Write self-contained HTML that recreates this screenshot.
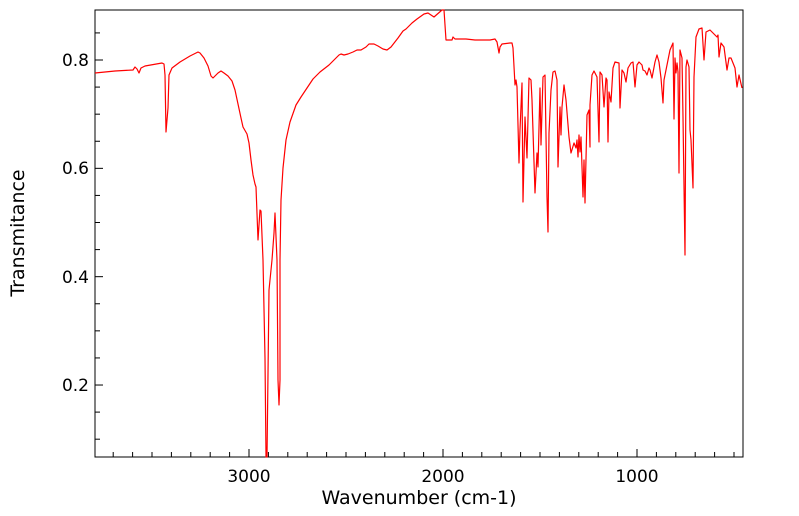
<!DOCTYPE html>
<html><head><meta charset="utf-8"><style>
html,body{margin:0;padding:0;background:#fff}
svg{display:block}
text{font-family:"DejaVu Sans","Liberation Sans",sans-serif;fill:#000}
</style></head><body>
<svg width="799" height="516" viewBox="0 0 799 516" xmlns="http://www.w3.org/2000/svg">
<rect x="95" y="10" width="648" height="447" fill="none" stroke="#000" stroke-width="1"/>
<g stroke="#000" stroke-width="1" id="ticks"></g>
<g font-size="17" text-anchor="end">
<text x="89" y="66">0.8</text>
<text x="89" y="174">0.6</text>
<text x="89" y="283">0.4</text>
<text x="89" y="391">0.2</text>
</g>
<g font-size="17" text-anchor="middle">
<text x="249" y="482">3000</text>
<text x="443" y="482">2000</text>
<text x="637" y="482">1000</text>
<text x="419" y="504" font-size="19">Wavenumber (cm-1)</text>
</g>
<text transform="translate(24,233) rotate(-90)" font-size="19" text-anchor="middle">Transmitance</text>
<polyline fill="none" stroke="#ff0000" stroke-width="1.2" stroke-linejoin="round" points="
95,73 115,71 133,70 135,67 137,69 139,73 141,68 145,66 162,63 164,64 165,75 166,132 168,108 169,75 172,68 180,62 190,56 196,53 198,52 200,53 204,58 208,66 211,76 213,78 218,73 221,71 224,73 228,76 232,81 235,90 238,104 241,118 243,127 247,134 249,143 251,160 253,175 255,184 256,187 258,240 260,210 261,211 263,260 265,358 266,457 267,457 269,290 272,260 274,233 275,213 277,260 278,380 279,405 280,380 280,260 281,200 283,168 286,140 290,122 296,105 301,97 307,88 313,79 320,72 329,65 336,58 339,55 341,54 344,55 348,54 353,52 357,50 361,50 366,47 369,44 374,44 378,46 383,49 387,50 391,47 398,38 403,31 406,29 412,23 417,19 424,14 428,13 431,15 434,17 442,10 444,10 446,40 450,40 452,40 453,37 455,39 466,39 475,40 483,40 490,40 495,39 497,42 499,53 500,47 502,44 510,43 512,43 513,48 515,85 516,80 517,87 519,163 520,130 522,83 523,202 525,117 527,158 529,78 531,80 532,100 535,193 537,153 538,167 540,88 541,145 543,77 545,75 547,197 548,232 549,133 551,90 553,72 555,71 557,80 558,167 560,107 561,135 562,107 564,85 566,100 569,137 571,153 574,143 576,148 577,140 578,157 579,135 580,152 581,137 583,197 584,160 585,203 587,115 589,110 590,147 590,105 592,75 594,71 597,77 599,142 600,72 602,75 604,107 606,78 607,80 608,142 609,92 611,102 613,68 615,62 619,63 620,108 622,70 624,73 626,82 628,68 631,63 633,62 635,87 637,65 639,62 642,65 643,70 645,71 647,75 649,68 650,70 652,78 655,62 657,55 659,62 661,78 663,103 664,80 667,65 670,50 673,43 674,119 675,58 676,73 677,63 678,72 679,173 680,50 682,58 683,117 685,255 686,67 687,60 689,67 690,130 691,140 693,188 694,77 696,37 699,29 702,28 704,60 706,32 710,30 713,33 717,37 718,35 719,57 721,43 724,47 727,70 729,58 731,58 735,68 737,87 739,75 742,88"/>
</svg>
<script>
var g=document.getElementById('ticks'),s='';
for(var w=3700;w>=500;w-=100){var x=249+(3000-w)*0.194;if(x<96||x>742)continue;var L=(w%1000==0)?8:5;s+='<line x1="'+x+'" y1="457" x2="'+x+'" y2="'+(457-L)+'"/>';}
for(var v=0.1;v<=0.86;v+=0.05){var y=60+(0.8-v)*541.7;var L=(Math.abs(v*10-Math.round(v*10))<0.01&&Math.round(v*10)%2==0)?8:5;s+='<line x1="95" y1="'+y+'" x2="'+(95+L)+'" y2="'+y+'"/>';}
g.innerHTML=s;
</script>
</body></html>
